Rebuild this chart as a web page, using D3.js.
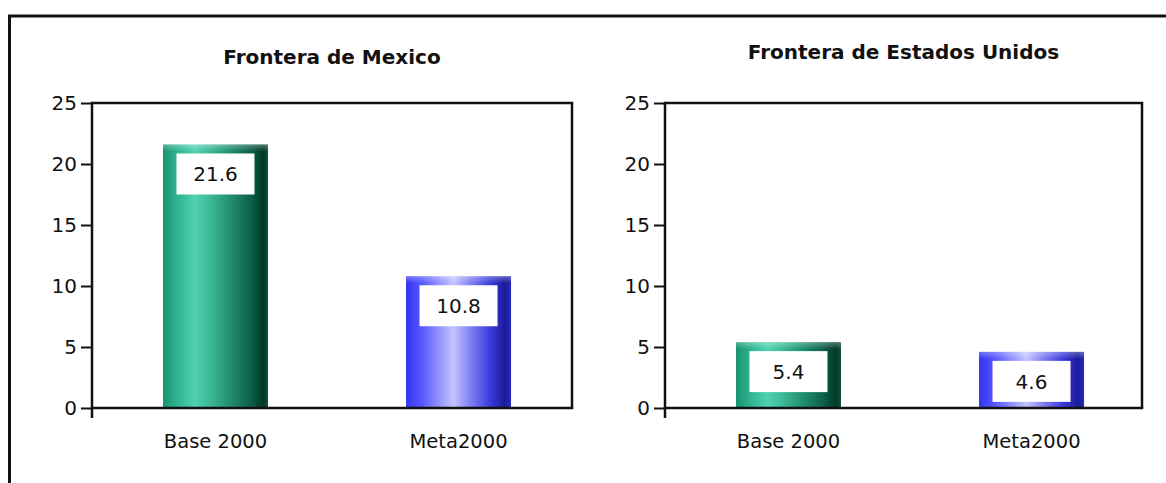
<!DOCTYPE html>
<html>
<head>
<meta charset="utf-8">
<script src="https://cdn.jsdelivr.net/npm/d3@7"></script>
<style>
  html, body { margin: 0; padding: 0; background: #fff; }
  svg { display: block; }
  text { font-family: "DejaVu Sans", Verdana, sans-serif; fill: #111; }
</style>
</head>
<body>
<svg id="chart" width="1166" height="483"></svg>
<script>
// Categories and values for each border panel
const categories = ["Base 2000", "Meta2000"];
const mexicoValues = [21.6, 10.8];
const usValues = [5.4, 4.6];
const yTicks = [0, 5, 10, 15, 20, 25];
const panelTitles = ["Frontera de Mexico", "Frontera de Estados Unidos"];

const svg = d3.select("#chart");
const defs = svg.append("defs");

// Horizontal cylinder-like gradients for the two bar colours
function hGradient(id, stops) {
  const g = defs.append("linearGradient").attr("id", id)
    .attr("x1", "0%").attr("x2", "100%").attr("y1", "0%").attr("y2", "0%");
  stops.forEach(([o, c]) => g.append("stop").attr("offset", o).attr("stop-color", c));
}
hGradient("gGreen", [
  ["0%", "#17936f"], ["12%", "#2caf8d"], ["30%", "#4fd2b1"], ["45%", "#3cb896"],
  ["65%", "#1f8c6d"], ["85%", "#0b5b45"], ["95%", "#023a2a"], ["100%", "#0b4d3a"]
]);
hGradient("gBlue", [
  ["0%", "#3434f2"], ["15%", "#5656ff"], ["45%", "#c4c4ff"], ["60%", "#8585f6"],
  ["80%", "#3b3bdc"], ["94%", "#1b1b9c"], ["100%", "#2828bb"]
]);
const topHi = defs.append("linearGradient").attr("id", "gTop")
  .attr("x1", "0%").attr("x2", "0%").attr("y1", "0%").attr("y2", "100%");
topHi.append("stop").attr("offset", "0%").attr("stop-color", "#fff").attr("stop-opacity", 0.3);
topHi.append("stop").attr("offset", "100%").attr("stop-color", "#fff").attr("stop-opacity", 0);

// Outer frame (open at right and bottom)
svg.append("path")
  .attr("d", "M1170,16 H9.5 V490")
  .attr("fill", "none").attr("stroke", "#111").attr("stroke-width", 3);

const yTop = 103, yBottom = 408;
const y = d3.scaleLinear().domain([0, 25]).range([yBottom, yTop]);

const panels = [
  { title: panelTitles[0], values: mexicoValues, x0: 92, x1: 572, titleY: 64, fill: ["url(#gGreen)", "url(#gBlue)"] },
  { title: panelTitles[1], values: usValues, x0: 665, x1: 1142, titleY: 59, fill: ["url(#gGreen)", "url(#gBlue)"] }
];

panels.forEach(p => {
  const g = svg.append("g");
  const x = d3.scaleBand().domain(categories)
    .range([p.x0, p.x0 + 490]).paddingInner(0.568).paddingOuter(0.292);

  // Title
  g.append("text")
    .attr("x", (p.x0 + p.x1) / 2).attr("y", p.titleY)
    .attr("text-anchor", "middle")
    .style("font-size", "20px").style("font-weight", "bold")
    .text(p.title);

  // Bars
  const bars = g.selectAll("g.bar").data(categories.map((c, i) => ({ c, v: p.values[i], i })))
    .join("g").attr("class", "bar");
  bars.append("rect")
    .attr("x", d => x(d.c)).attr("width", x.bandwidth())
    .attr("y", d => y(d.v)).attr("height", d => yBottom - y(d.v))
    .attr("fill", d => p.fill[d.i]);
  bars.append("rect")
    .attr("x", d => x(d.c)).attr("width", x.bandwidth())
    .attr("y", d => y(d.v)).attr("height", 7)
    .attr("fill", "url(#gTop)");

  // Value boxes
  const boxW = 78, boxH = 41;
  bars.append("rect")
    .attr("x", d => x(d.c) + x.bandwidth() / 2 - boxW / 2)
    .attr("y", d => y(d.v) + 9)
    .attr("width", boxW).attr("height", boxH)
    .attr("fill", "#fff");
  bars.append("text")
    .attr("x", d => x(d.c) + x.bandwidth() / 2)
    .attr("y", d => y(d.v) + 9 + boxH / 2 + 7.5)
    .attr("text-anchor", "middle")
    .style("font-size", "20px")
    .text(d => d3.format(".1f")(d.v));

  // Plot frame (top and right edges)
  g.append("path")
    .attr("d", `M${p.x0},${yTop} H${p.x1} V${yBottom}`)
    .attr("fill", "none").attr("stroke", "#111").attr("stroke-width", 2.5);

  // X baseline
  g.append("line")
    .attr("x1", p.x0).attr("x2", p.x1 + 1.25)
    .attr("y1", yBottom).attr("y2", yBottom)
    .attr("stroke", "#111").attr("stroke-width", 2.5);

  // Y axis
  const ax = g.append("g").attr("transform", `translate(${p.x0},0)`)
    .call(d3.axisLeft(y).tickValues(yTicks).tickSize(11).tickSizeOuter(0).tickPadding(4));
  ax.select(".domain").remove();
  ax.selectAll(".tick line").attr("stroke", "#111").attr("stroke-width", 2);
  ax.selectAll(".tick text")
    .style("font-family", "'DejaVu Sans', Verdana, sans-serif")
    .style("font-size", "20px").attr("fill", "#111");
  g.append("line")
    .attr("x1", p.x0).attr("x2", p.x0)
    .attr("y1", yTop - 1.25).attr("y2", yBottom + 10)
    .attr("stroke", "#111").attr("stroke-width", 2.5);

  // Category labels
  g.selectAll("text.cat").data(categories).join("text")
    .attr("class", "cat")
    .attr("x", d => x(d) + x.bandwidth() / 2).attr("y", 448)
    .attr("text-anchor", "middle")
    .style("font-size", "19.5px")
    .text(d => d);
});
</script>
</body>
</html>
